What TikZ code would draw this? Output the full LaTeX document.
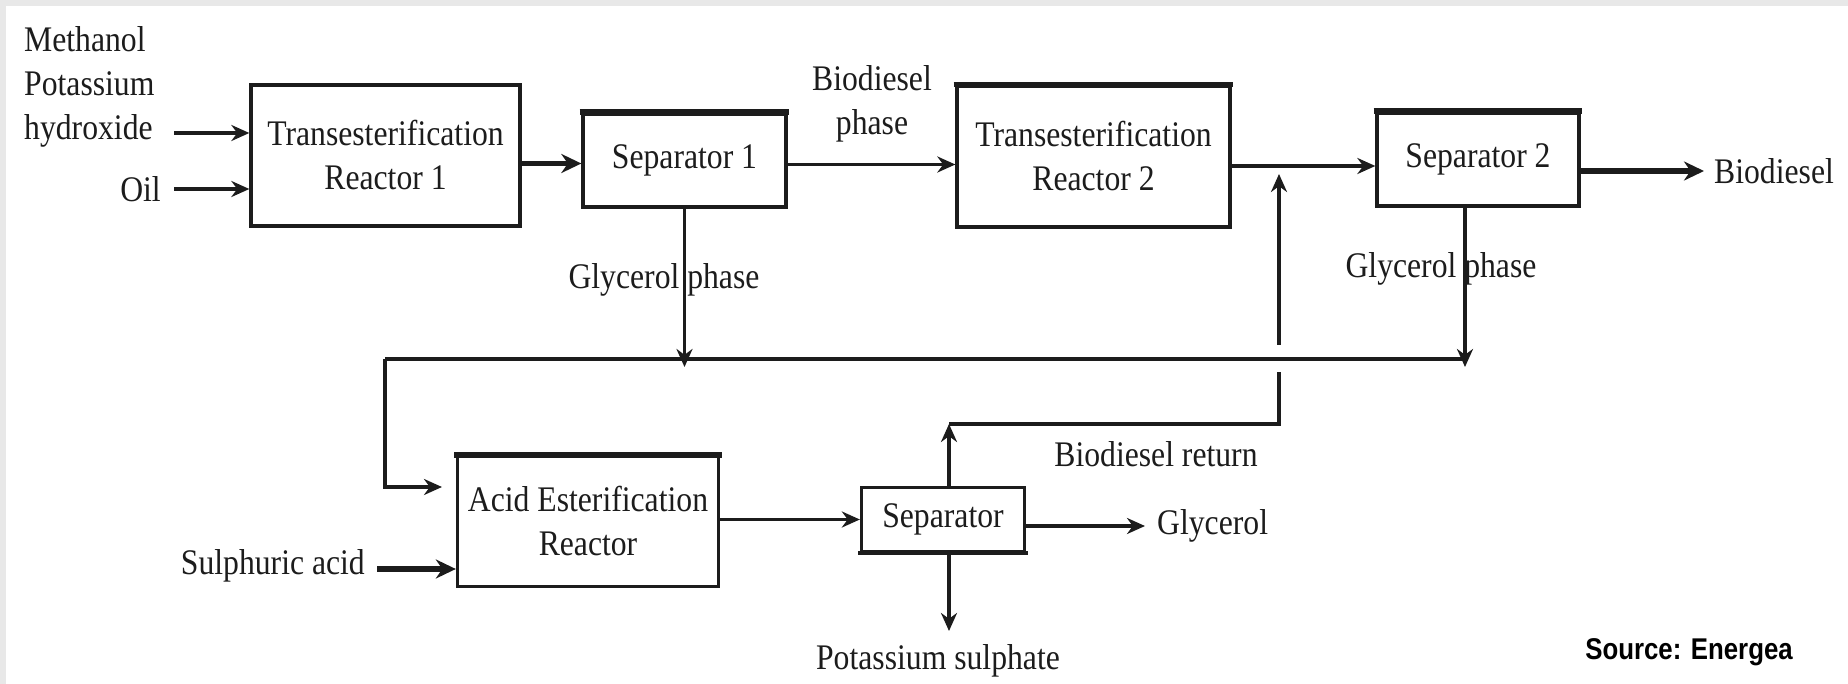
\documentclass[tikz,border=0pt]{standalone}
\usepackage{fontspec}
\setmainfont{Liberation Serif}[FakeStretch=0.88]
\newfontfamily\srcfont{Liberation Sans}[FakeStretch=0.86]
\usetikzlibrary{arrows.meta}
\definecolor{ink}{HTML}{1C1C1C}
\definecolor{frame}{HTML}{E8E8E8}
\begin{document}
\begin{tikzpicture}[x=1pt,y=-1pt,
  box/.style={draw=ink,line width=3.3pt,inner sep=0pt,align=center,text=ink,
    font=\fontsize{36}{44}\selectfont},
  lbl/.style={inner sep=0pt,text=ink,font=\fontsize{36}{44}\selectfont},
  flow/.style={draw=ink,line width=3.3pt,-{Stealth[length=18pt,width=16pt]}},
  thickflow/.style={draw=ink,line width=5.5pt,-{Stealth[length=20pt,width=19pt]}},
  pipe/.style={draw=ink,line width=3.3pt},
  topbar/.style={draw=ink,line width=6pt}]
\fill[frame] (0,0) rectangle (1848,684);
\fill[white] (6,6) rectangle (1848,684);
\useasboundingbox (0,0) rectangle (1848,684);

% boxes
\node[box,minimum width=269pt,minimum height=141pt] (tr1) at (385.5,155.5) {Transesterification\\Reactor 1};
\node[box,minimum width=203pt,minimum height=93pt] (sep1) at (684.5,160.5) {Separator 1};
\node[box,minimum width=273pt,minimum height=141pt] (tr2) at (1093.5,156.5) {Transesterification\\Reactor 2};
\node[box,minimum width=202pt,minimum height=93pt] (sep2) at (1478,159.5) {Separator 2};
\node[box,minimum width=261pt,minimum height=130pt] (acid) at (588,521.5) {Acid Esterification\\Reactor};
\node[box,minimum width=163pt,minimum height=64pt] (sep3) at (943,519.5) {Separator};
\draw[topbar] ([xshift=-1.65pt]sep1.north west) -- ([xshift=1.65pt]sep1.north east);
\draw[topbar] ([xshift=-1.65pt]sep2.north west) -- ([xshift=1.65pt]sep2.north east);
\draw[topbar] ([xshift=-1.65pt]acid.north west) -- ([xshift=1.65pt]acid.north east);
\draw[draw=ink,line width=4.5pt] ([xshift=-1.65pt]tr2.north west) -- ([xshift=1.65pt]tr2.north east);
\draw[draw=ink,line width=4.5pt] ([xshift=-1.65pt]sep3.south west) -- ([xshift=1.65pt]sep3.south east);

% labels
\node[lbl,align=left,anchor=west] (feed) at (24,87) {Methanol\\Potassium\\hydroxide};
\node[lbl,anchor=east] (oil) at (161,189) {Oil};
\node[lbl,align=center] (bdp) at (872,104) {Biodiesel\\phase};
\node[lbl,anchor=west] (bio) at (1714,171) {Biodiesel};
\node[lbl] (gp1) at (664,280) {Glycerol phase};
\node[lbl] (gp2) at (1441,269) {Glycerol phase};
\node[lbl] (bret) at (1156,454) {Biodiesel return};
\node[lbl,anchor=east] (sul) at (365,566) {Sulphuric acid};
\node[lbl,anchor=west] (gly) at (1157,526) {Glycerol};
\node[lbl] (kso) at (938,661) {Potassium sulphate};
\node[inner sep=0pt,font=\srcfont\bfseries\fontsize{30}{34}\selectfont,text=black] (src) at (1689,652) {Source: Energea};

% coordinates
\coordinate (hin) at (174,133);
\coordinate (oin) at (174,189);
\coordinate (j2) at (1279,166);
\coordinate (hl) at (385,359);
\coordinate (hr) at (1465,359);
\coordinate (al) at (442,487);
\coordinate (ru) at (949,424);
\coordinate (rc) at (1279,424);
\coordinate (gapl) at (1279,372);
\coordinate (gapu) at (1279,345);
\coordinate (pd) at (949,631);

% connectors
\draw[flow] (hin) -- (hin -| tr1.west);
\draw[flow] (oin) -- (oin -| tr1.west);
\draw[thickflow] ([yshift=-3pt]tr1.east |- sep1.west) -- ([yshift=-3pt]sep1.west);
\draw[flow] ([yshift=-4pt]sep1.east) -- ([yshift=-4pt]sep1.east -| tr2.west);
\draw[pipe] (j2 -| tr2.east) -- (j2);
\draw[flow] (j2) -- (j2 -| sep2.west);
\draw[thickflow] (bio.west -| sep2.east) -- ([xshift=-10pt]bio.west);
\draw[flow] (sep1.south) -- ([yshift=-8pt]sep1.south |- hl);
\draw[flow] (hr |- sep2.south) -- ([yshift=-8pt]hr);
\draw[pipe] (hr) -- (hl);
\draw[flow] (hl) |- (al);
\draw[thickflow] ([xshift=12pt]sul.east |- 0,569) -- (acid.west |- 0,569);
\draw[flow] (acid.east |- sep3.west) -- (sep3.west);
\draw[flow] (ru |- sep3.north) -- (ru);
\draw[pipe] (ru) -- (rc) -- (gapl);
\draw[flow] (gapu) -- ([yshift=-8pt]j2);
\draw[flow] (sep3.east |- gly.west) -- ([xshift=-12pt]gly.west);
\draw[flow] (ru |- sep3.south) -- (pd);
\end{tikzpicture}
\end{document}
